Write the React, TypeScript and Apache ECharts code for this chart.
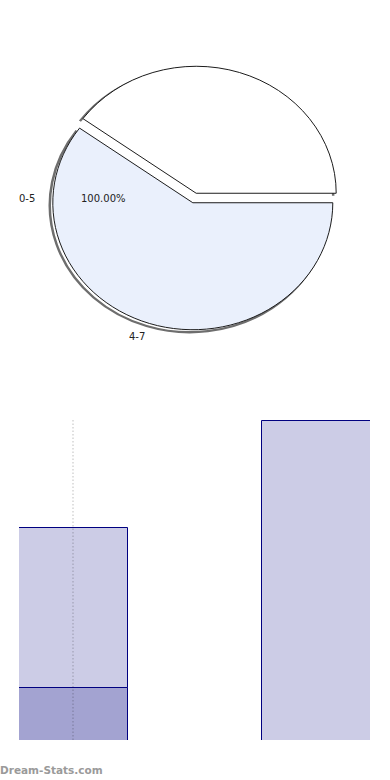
import React, { useEffect, useRef } from "react";
import * as echarts from "echarts";

// ---- data ----
const pieSlices = [40, 60]; // white slice, light-blue slice
const pieColors = ["#ffffff", "#eaf0fc"];
const pieOuterLabels = ["0-5", "4-7"];
const piePercentLabel = "100.00%";

const barCategories = ["0-5", "4-7"];
const barLower = [1, 0];
const barUpper = [3, 6];
const barMax = 6;
const barLowerColor = "#a3a3d1";
const barUpperColor = "#cccce6";
const watermark = "Dream-Stats.com";

// ---- layout ----
const PIE_CX = 194.5;
const PIE_CY = 198;
const PIE_R = 140;
const PIE_SY = 127 / 140;
const EXPLODE = 5.5;
const BAR_W = 109;

export default function App() {
  const ref = useRef<HTMLDivElement>(null);
  useEffect(() => {
    if (!ref.current) return;
    const chart = echarts.init(ref.current, undefined, { renderer: "svg" });
    const total = pieSlices.reduce((a, b) => a + b, 0);

    const pieRender = (params: any, api: any) => {
      const i = params.dataIndex;
      const before = pieSlices.slice(0, i).reduce((a, b) => a + b, 0);
      const v = api.value(0);
      const a0 = (-before / total) * Math.PI * 2;
      const a1 = (-(before + v) / total) * Math.PI * 2;
      const mid = (a0 + a1) / 2;
      const x = PIE_CX + EXPLODE * Math.cos(mid);
      const y = PIE_CY + EXPLODE * Math.sin(mid) * PIE_SY;
      return {
        type: "group",
        children: [
          {
            type: "arc",
            x: x - 3,
            y: y + 2.5,
            scaleY: PIE_SY,
            z2: 0,
            shape: { cx: 0, cy: 0, r: PIE_R, startAngle: a0, endAngle: a1, clockwise: false },
            style: { stroke: "#6e6e6e", lineWidth: 2.5, fill: "none" },
          },
          {
            type: "sector",
            x,
            y,
            scaleY: PIE_SY,
            z2: 10,
            shape: { cx: 0, cy: 0, r: PIE_R, r0: 0, startAngle: a0, endAngle: a1, clockwise: false },
            style: { fill: pieColors[i], stroke: "#111", lineWidth: 1 },
          },
        ],
      };
    };

    const barRender = (color: string) => (params: any, api: any) => {
      const xv = api.value(0);
      const v0 = api.value(1);
      const v1 = api.value(2);
      if (!(v1 > v0)) return null;
      const pb = api.coord([xv, v0]);
      const pt = api.coord([xv, v1]);
      const top = Math.round(pt[1]) + 0.5;
      const bottom = v0 === 0 ? Math.round(pb[1]) + 2 : Math.round(pb[1]) + 0.5;
      return {
        type: "rect",
        shape: { x: pb[0] - BAR_W / 2, y: top, width: BAR_W, height: bottom - top },
        style: { fill: color, stroke: "#000080", lineWidth: 1 },
      };
    };

    const lowerData = barCategories.map((_, i) => [i, 0, barLower[i]]);
    const upperData = barCategories.map((_, i) => [i, barLower[i], barLower[i] + barUpper[i]]);

    const font = '10px "DejaVu Sans", sans-serif';
    const txt = (text: string, x: number, y: number, extra: any = {}) => ({
      type: "text",
      x,
      y,
      z: 100,
      silent: true,
      style: {
        text,
        font,
        fill: "#222",
        align: "left",
        verticalAlign: "middle",
        textAlign: "left",
        textVerticalAlign: "middle",
        ...extra,
      },
    });

    chart.setOption({
      animation: false,
      grid: { left: 19, right: 20, top: 420, bottom: 40, show: false },
      xAxis: { type: "value", min: -2 / 9, max: 11 / 9, show: false },
      yAxis: { type: "value", min: 0, max: barMax, show: false },
      series: [
        {
          type: "custom",
          coordinateSystem: "none",
          renderItem: pieRender,
          data: pieSlices.map((v) => [v]),
          silent: true,
        },
        {
          type: "custom",
          name: "lower",
          renderItem: barRender(barLowerColor),
          data: lowerData,
          clip: true,
          encode: { x: 0, y: [1, 2] },
          silent: true,
        },
        {
          type: "custom",
          name: "upper",
          renderItem: barRender(barUpperColor),
          data: upperData,
          clip: true,
          encode: { x: 0, y: [1, 2] },
          silent: true,
        },
        {
          type: "line",
          data: [
            [0, 0],
            [0, barMax],
          ],
          symbol: "none",
          silent: true,
          z: 10,
          lineStyle: { color: "rgba(0,0,0,0.25)", width: 1, type: [1.5, 2] },
        },
      ],
      graphic: [
        txt(pieOuterLabels[0], 19, 198),
        txt(piePercentLabel, 81, 198),
        txt(pieOuterLabels[1], 129, 336),
        txt(watermark, 0, 770, {
          font: 'bold 10.5px "DejaVu Sans", sans-serif',
          fill: "#9a9a9a",
        }),
      ],
    });
    return () => chart.dispose();
  }, []);
  return (
    <div
      ref={ref}
      style={{ position: "absolute", left: 0, top: 0, width: 390, height: 780 }}
    />
  );
}
